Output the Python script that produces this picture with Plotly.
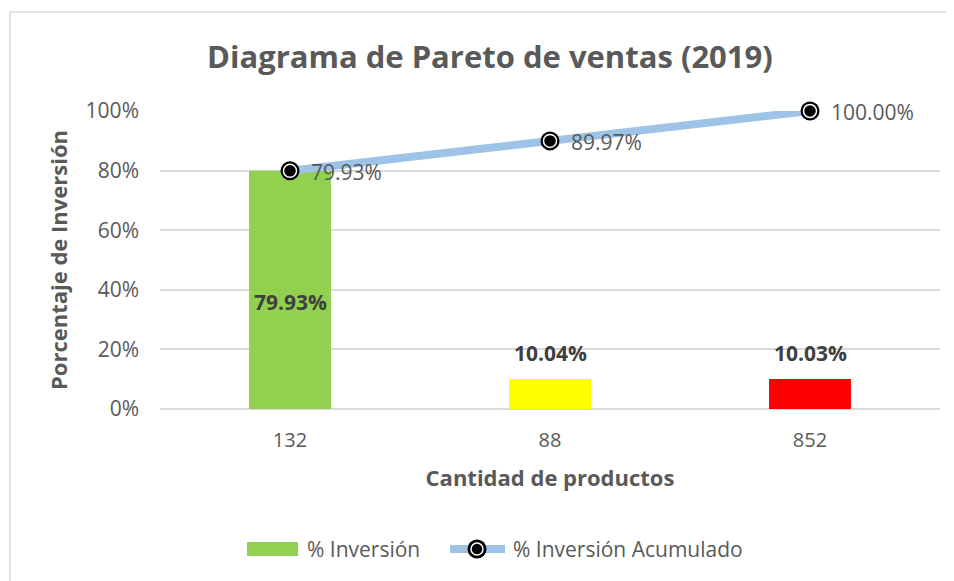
import plotly.graph_objects as go

categories = ["132", "88", "852"]
inversion = [0.7993, 0.1004, 0.1003]
acumulado = [0.7993, 0.8997, 1.0000]
bar_colors = ["#92D050", "#FFFF00", "#FF0000"]
y_ticks = [0, 0.2, 0.4, 0.6, 0.8, 1.0]
y_tick_labels = ["0%", "20%", "40%", "60%", "80%", "100%"]

FONT = "Open Sans"
GRAY = "#595959"
DARK = "#404040"
W, H = 954, 581
OFF = 8  # page offset compensation
L, R, T, B = 160 - OFF, W - (940 - OFF), 111 - OFF, H - (409 - OFF)
PW, PH = W - L - R, H - T - B

xpos = list(range(len(categories)))

def px_x(p):
    return (p - OFF - L) / PW

def px_y(p):
    return (H - B - (p - OFF)) / PH

fig = go.Figure()
fig.add_trace(go.Bar(
    x=xpos, y=inversion, name="% Inversión",
    marker=dict(color=bar_colors, line=dict(width=0)),
    width=0.315, showlegend=False, hoverinfo="y",
))
fig.add_trace(go.Scatter(
    x=xpos, y=acumulado, name="% Inversión Acumulado",
    mode="lines+markers",
    line=dict(color="#9DC3E6", width=8),
    marker=dict(color="black", size=19, line=dict(width=0)),
    cliponaxis=False, showlegend=False,
))
fig.add_trace(go.Scatter(
    x=xpos, y=acumulado, mode="markers", showlegend=False,
    marker=dict(color="black", size=13, line=dict(color="white", width=1.5)),
    cliponaxis=False, hoverinfo="skip",
))

annotations = []
for p, v in zip(xpos, acumulado):
    annotations.append(dict(x=p, y=v, xanchor="left", yanchor="middle",
                            xshift=19, yshift=-1, showarrow=False,
                            text=f"{v*100:.2f}%",
                            font=dict(family=FONT, size=21, color=GRAY)))
for p, v in zip(xpos, inversion):
    if v > 0.3:
        annotations.append(dict(x=p, y=v / 2, yshift=-12, showarrow=False,
                                text=f"<b>{v*100:.2f}%</b>",
                                font=dict(family=FONT, size=21, color=DARK)))
    else:
        annotations.append(dict(x=p, y=v, yshift=26, showarrow=False,
                                text=f"<b>{v*100:.2f}%</b>",
                                font=dict(family=FONT, size=21, color=DARK)))

# custom legend (text)
annotations.append(dict(xref="paper", yref="paper", x=px_x(305), y=px_y(549),
                        xanchor="left", yanchor="middle", showarrow=False,
                        text="% Inversión", font=dict(family=FONT, size=21, color=GRAY)))
annotations.append(dict(xref="paper", yref="paper", x=px_x(511), y=px_y(549),
                        xanchor="left", yanchor="middle", showarrow=False,
                        text="% Inversión Acumulado", font=dict(family=FONT, size=21, color=GRAY)))
annotations.append(dict(xref="paper", yref="paper", x=px_x(490), y=px_y(56),
                        xanchor="center", yanchor="middle", showarrow=False,
                        text="<b>Diagrama de Pareto de ventas (2019)</b>",
                        font=dict(family=FONT, size=31, color=GRAY)))

shapes = [
    dict(type="rect", xref="paper", yref="paper",
         x0=px_x(10), x1=px_x(970), y0=px_y(600), y1=px_y(12),
         line=dict(color="#D9D9D9", width=1.5), fillcolor="rgba(0,0,0,0)", layer="below"),
    # legend swatch for bars
    dict(type="rect", xref="paper", yref="paper",
         x0=px_x(247), x1=px_x(298), y0=px_y(556), y1=px_y(542),
         line=dict(width=0), fillcolor=bar_colors[0]),
    # legend line
    dict(type="line", xref="paper", yref="paper",
         x0=px_x(450), x1=px_x(505), y0=px_y(549), y1=px_y(549),
         line=dict(color="#9DC3E6", width=8)),
    dict(type="circle", xref="paper", yref="paper",
         x0=px_x(467.5), x1=px_x(486.5), y0=px_y(558.5), y1=px_y(539.5),
         line=dict(width=0), fillcolor="black"),
    dict(type="circle", xref="paper", yref="paper",
         x0=px_x(471), x1=px_x(483), y0=px_y(555), y1=px_y(543),
         line=dict(color="white", width=1.5), fillcolor="black"),
]

fig.update_layout(
    width=W, height=H,
    margin=dict(l=L, r=R, t=T, b=B),
    paper_bgcolor="white", plot_bgcolor="white",
    font=dict(family=FONT, color=GRAY),
    showlegend=False,
    xaxis=dict(
        range=[-0.5, len(categories) - 0.5],
        tickvals=xpos, ticktext=categories,
        showgrid=False, zeroline=False, showline=False,
        tickfont=dict(family=FONT, size=20, color=GRAY),
        title=dict(text="<b>Cantidad de productos</b>",
                   font=dict(family=FONT, size=22, color=GRAY), standoff=18),
        ticks="", ticklabelstandoff=17,
    ),
    yaxis=dict(
        range=[0, 1], tickvals=y_ticks, ticktext=y_tick_labels,
        showgrid=True, gridcolor="#D9D9D9", gridwidth=2,
        zeroline=True, zerolinecolor="#D9D9D9", zerolinewidth=2,
        tickfont=dict(family=FONT, size=21, color=GRAY),
        title=dict(text="<b>Porcentaje de Inversión</b>",
                   font=dict(family=FONT, size=22, color=GRAY), standoff=11),
        ticks="", ticklabelstandoff=20,
    ),
    annotations=annotations,
    shapes=shapes,
)

fig.write_html("out.html")
